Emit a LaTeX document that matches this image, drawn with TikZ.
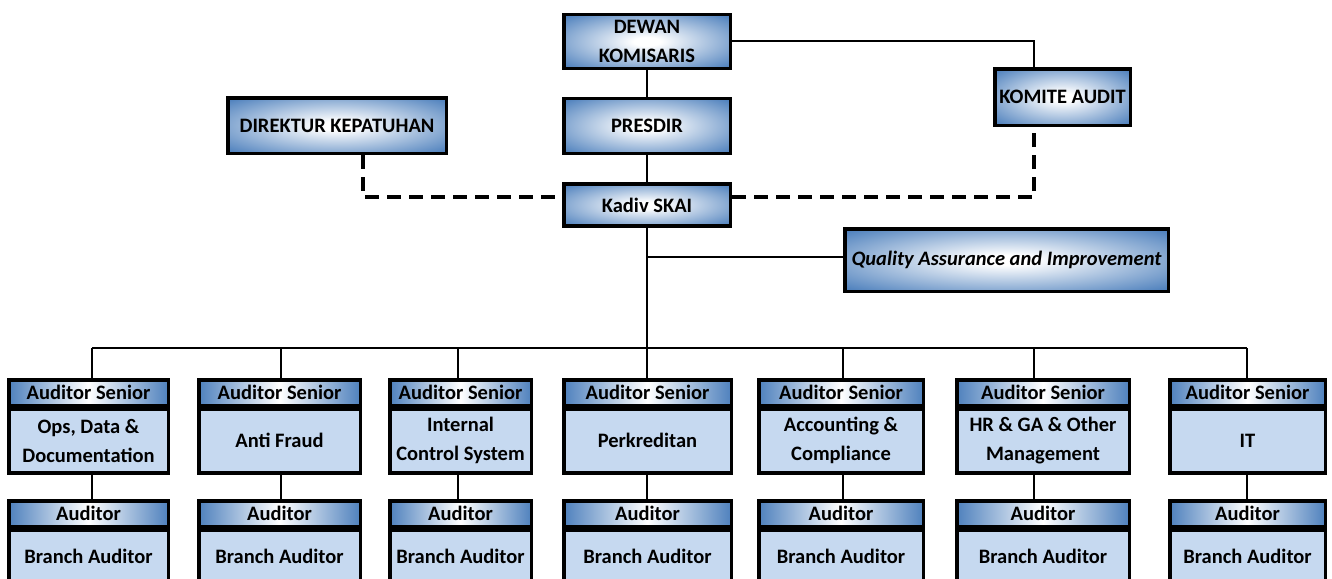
\documentclass[tikz,border=0pt]{standalone}
\usepackage{fontspec}
\setmainfont{Carlito}
\usepackage{tikz}
\usetikzlibrary{calc}

\definecolor{boxblue}{RGB}{79,129,189}
\definecolor{boxpale}{RGB}{198,217,240}
\pgfdeclareradialshading{boxglow}{\pgfpoint{0bp}{0bp}}{color(0bp)=(white); color(4bp)=(white); color(34bp)=(boxblue); color(50bp)=(boxblue)}

\tikzset{
  topbox/.style={draw, line width=3.5pt, shade, shading=boxglow, inner sep=0pt, align=center,
    font=\bfseries\fontsize{20.5}{29}\selectfont},
  hdrbox/.style={draw, line width=3.5pt, left color=boxblue, right color=boxblue, middle color=white,
    inner sep=0pt, minimum height=25.5pt, font=\bfseries\fontsize{20.5}{24}\selectfont},
  bodybox/.style={draw, line width=3.5pt, fill=boxpale, inner sep=0pt, align=center, anchor=north,
    font=\bfseries\fontsize{20.5}{29}\selectfont},
  link/.style={line width=2pt},
  dashlink/.style={line width=3.5pt, dash pattern=on 14pt off 8pt}
}

\begin{document}
\begin{tikzpicture}[x=1pt,y=-1pt]
\useasboundingbox (0,0) rectangle (1332,578);
\clip (0,0) rectangle (1332,578);
\node[topbox, minimum width=166.5pt, minimum height=53.5pt] (dewan) at (647,41.5) {DEWAN\\KOMISARIS};
\node[topbox, minimum width=166.5pt, minimum height=55pt] (presdir) at (647,126) {PRESDIR};
\node[topbox, minimum width=166.5pt, minimum height=42pt] (kadiv) at (647,205) {Kadiv SKAI};
\node[topbox, minimum width=218.5pt, minimum height=55.5pt] (direktur) at (337,125.5) {DIREKTUR KEPATUHAN};
\node[topbox, minimum width=135.5pt, minimum height=56.5pt] (komite) at (1062.5,97) {KOMITE AUDIT};
\node[topbox, minimum width=323.5pt, minimum height=62.5pt, font=\bfseries\itshape\fontsize{20.5}{24}\selectfont] (qa) at (1006.5,260) {Quality Assurance and Improvement};
\draw[link] (dewan.east) -| ([xshift=-28.5pt]komite.north);
\draw[link] (dewan.south) -- (presdir.north);
\draw[link] (presdir.south) -- (kadiv.north);
\draw[dashlink] ([xshift=26pt]direktur.south) |- ([yshift=8pt]kadiv.west);
\draw[dashlink] ([yshift=8pt]kadiv.east) -| ([xshift=-28.5pt]komite.south);
\coordinate (bus) at (647,348);
\draw[link] (kadiv.south) -- (bus);
\draw[link] ([yshift=3pt]kadiv.south |- qa.west) -- ([yshift=3pt]qa.west);
\foreach \cx/\w/\lx/\txt [count=\i] in {
  88.5/159.5/92/{Ops, Data \&\\Documentation},
  279.5/161.5/281/{Anti Fraud},
  460.5/141.5/458/{Internal\\Control System},
  647.5/167.5/647/{Perkreditan},
  841/164.5/843/{Accounting \&\\Compliance},
  1043/172.5/1034/{HR \& GA \& Other\\Management},
  1247.5/155.5/1247/{IT}} {
  \node[hdrbox, minimum width=\w pt] (sh\i) at (\cx,392.5) {Auditor Senior};
  \node[bodybox, minimum width=\w pt, minimum height=64pt] (sb\i) at (sh\i.south) {\txt};
  \node[hdrbox, minimum width=\w pt] (ah\i) at (\cx,513.5) {Auditor};
  \node[bodybox, minimum width=\w pt, minimum height=54pt] (ab\i) at (ah\i.south) {Branch Auditor};
  \coordinate (top\i) at (\lx,348);
  \draw[link] (top\i) -- (top\i |- sh\i.north);
  \draw[link] (top\i |- sb\i.south) -- (top\i |- ah\i.north);
}
\draw[link] (top1) -- (top7);
\end{tikzpicture}
\end{document}
